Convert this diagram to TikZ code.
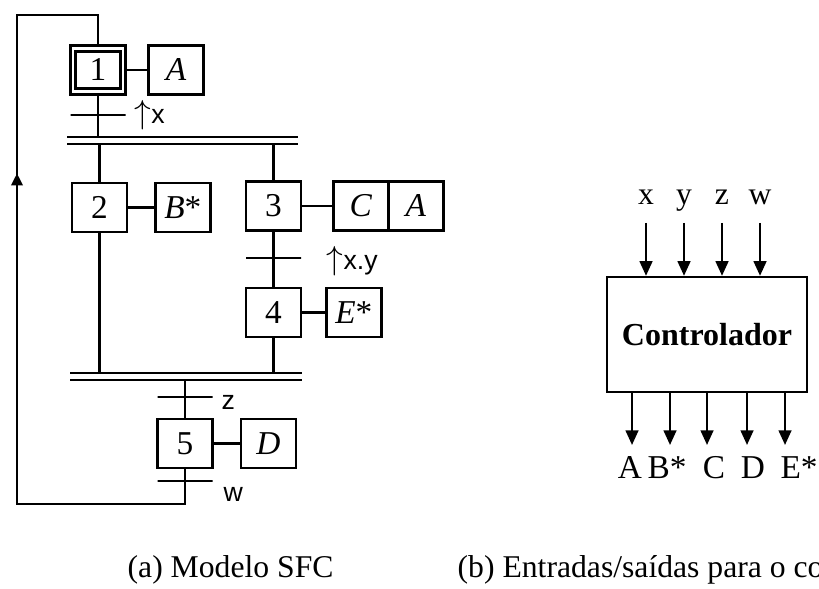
\documentclass[tikz,border=0pt]{standalone}
\usepackage{fontspec}
\setmainfont{Liberation Serif}
\newfontfamily\sfclabel{Liberation Sans}
\usetikzlibrary{arrows.meta, positioning, decorations.markings}

\begin{document}
\begin{tikzpicture}[
  x=0.3pt, y=-0.3pt,
  stepbox/.style={draw, line width=0.7pt, minimum width=16.5pt, minimum height=14.7pt,
                  inner sep=0pt, font=\fontsize{10}{12}\selectfont},
  initbox/.style={draw, line width=0.8pt, minimum width=13.4pt, minimum height=11.2pt,
                  inner sep=0pt, font=\fontsize{10}{12}\selectfont},
  action/.style={stepbox, font=\fontsize{10}{12}\selectfont\itshape},
  trans/.style={draw, line width=0.7pt, minimum width=16.5pt, minimum height=0pt, inner sep=0pt},
  cond/.style={font=\sfclabel\fontsize{8}{10}\selectfont, inner sep=0pt},
  sync/.style={double, double distance=1.4pt, line width=0.7pt},
  link/.style={line width=0.7pt},
  loopline/.style={line width=0.7pt, postaction={decorate},
    decoration={markings, mark=at position 0.665 with {\arrow{Triangle[length=3.6pt,width=3.4pt]}}}},
  arrow/.style={-{Triangle[length=4.4pt, width=3.8pt]}, line width=0.7pt},
  ctrlbox/.style={draw, line width=0.7pt, minimum width=60pt, minimum height=34.5pt,
                  font=\fontsize{9.6}{11}\selectfont\bfseries},
  io/.style={inner sep=0pt, anchor=base},
  caption/.style={font=\fontsize{9.5}{11}\selectfont, inner sep=0pt, anchor=base west}
]
\useasboundingbox (0,0) rectangle (819,588);
\clip (0,0) rectangle (819,588);

% SFC model
\node[stepbox] (s1) at (98,70) {};
\node[initbox] (s1in) at (s1) {1};
\node[action, right=6.2pt of s1] (a1) {A};
\node[trans, label={[cond, label distance=2.2pt]right:{\fontsize{10}{12}\selectfont$\uparrow$}x}] (t1) at (98,115) {};

\coordinate (b1l) at (67,140.5);  \coordinate (b1r) at (298,140.5);
\coordinate (b1top) at (67,137);  \coordinate (b1bot) at (67,144);

\node[stepbox] (s2) at (99.5,207.5) {2};
\node[action, right=7.8pt of s2] (a2) {B\textup{*}};
\node[stepbox] (s3) at (273.5,206) {3};
\node[action, right=9pt of s3] (a3) {C};
\node[action, right=-0.7pt of a3] (a3b) {A};
\node[trans, label={[cond, label distance=7.2pt, yshift=-1pt]right:{\fontsize{10}{12}\selectfont$\uparrow$}x.y}] (t3) at (273.5,258) {};
\node[stepbox] (s4) at (273.5,312.5) {4};
\node[action, right=6.9pt of s4] (a4) {E\textup{*}};

\coordinate (b2l) at (70,376.5);  \coordinate (b2r) at (302,376.5);
\coordinate (b2top) at (70,373);  \coordinate (b2bot) at (70,380);

\node[trans, label={[cond, label distance=2.2pt, yshift=-1.5pt]right:z}] (t4) at (185,397) {};
\node[stepbox] (s5) at (185,443.5) {5};
\node[action, right=7.8pt of s5] (a5) {D};
\node[trans, label={[cond, label distance=2.8pt, yshift=-4pt]right:w}] (t5) at (185,481) {};

\coordinate (lb) at (17,504);
\coordinate (lt) at (17,15);

\draw[sync] (b1l) -- (b1r);
\draw[sync] (b2l) -- (b2r);

\draw[link] (s1) -- (a1);
\draw[link] (s2) -- (a2);
\draw[link] (s3) -- (a3);
\draw[link] (s4) -- (a4);
\draw[link] (s5) -- (a5);

\draw[link] (s1.south) -- (s1.south |- b1top);
\draw[link] (s2.north |- b1bot) -- (s2.north);
\draw[link] (s3.north |- b1bot) -- (s3.north);
\draw[link] (s3) -- (s4);
\draw[link] (s2.south) -- (s2.south |- b2top);
\draw[link] (s4.south) -- (s4.south |- b2top);
\draw[link] (s5.north |- b2bot) -- (s5.north);
\draw[loopline] (s5.south) |- (lb) -- (lt) -| (s1.north);

% controller inputs/outputs
\node[ctrlbox] (ctl) at (707,334.5) {Controlador};
\foreach \v/\xx [count=\i] in {x/646, y/684, z/722, w/760} {
  \node[io, font=\fontsize{9.5}{11}\selectfont] (in\i) at (\xx,205) {\v};
  \coordinate (ia\i) at (\xx,223);
  \draw[arrow] (ia\i) -- (ia\i |- ctl.north);
}
\foreach \v/\xx/\lx [count=\i] in {A/632/630, B*/670/667, C/707/714, D/747/753, E*/785/799} {
  \coordinate (oa\i) at (\xx,445);
  \draw[arrow] (oa\i |- ctl.south) -- (oa\i);
  \node[io, font=\fontsize{10}{12}\selectfont] (out\i) at (\lx,478) {\v};
}

% captions
\node[caption] (capa) at (127,577) {(a) Modelo SFC};
\node[caption] (capb) at (457,577) {(b) Entradas/saídas para o co};
\end{tikzpicture}
\end{document}
